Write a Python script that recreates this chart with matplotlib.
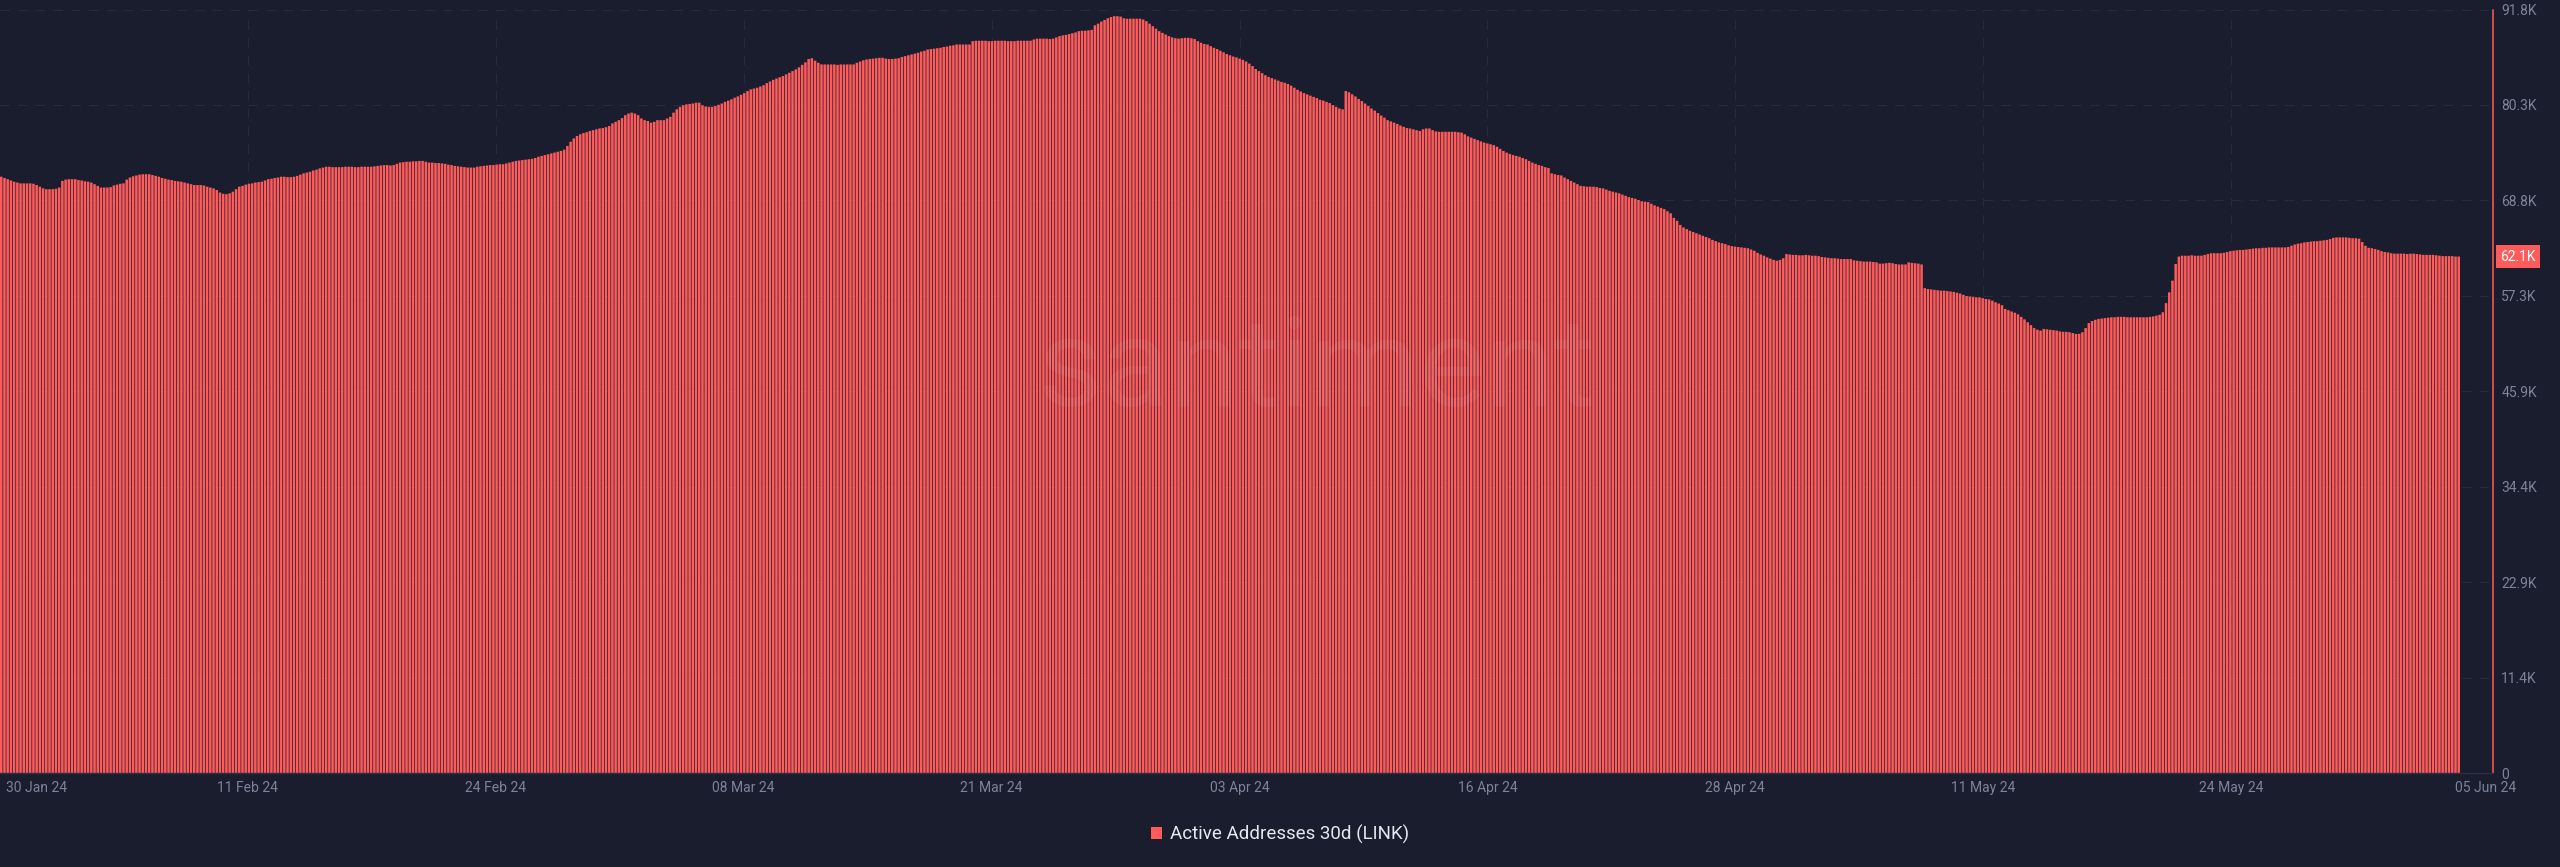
import numpy as np
import pandas as pd
import matplotlib
matplotlib.use('Agg')
import matplotlib.pyplot as plt
import matplotlib.dates as mdates
import matplotlib.transforms as mtransforms
from matplotlib.patches import Patch

plt.rcParams['font.family'] = ['Roboto', 'DejaVu Sans']

# Active Addresses 30d (LINK), one bar per 4h, in thousands
values = [
    71.7, 71.55, 71.4, 71.25, 71.1, 71.0,
    70.9, 70.9, 70.9, 70.9, 70.85, 70.7,
    70.5, 70.3, 70.2, 70.2, 70.2, 70.25,
    70.4, 71.2, 71.35, 71.4, 71.4, 71.4,
    71.3, 71.25, 71.15, 71.1, 71.0, 70.8,
    70.6, 70.4, 70.4, 70.4, 70.45, 70.65,
    70.75, 70.85, 70.9, 71.35, 71.6, 71.75,
    71.85, 71.95, 72.0, 72.0, 72.0, 71.9,
    71.8, 71.7, 71.55, 71.45, 71.35, 71.3,
    71.2, 71.15, 71.1, 71.0, 70.9, 70.8,
    70.7, 70.7, 70.7, 70.65, 70.5, 70.4,
    70.3, 70.1, 69.8, 69.65, 69.6, 69.7,
    69.9, 70.2, 70.5, 70.6, 70.75, 70.85,
    70.9, 71.0, 71.05, 71.1, 71.25, 71.4,
    71.45, 71.55, 71.6, 71.7, 71.7, 71.65,
    71.65, 71.7, 71.8, 71.95, 72.1, 72.2,
    72.3, 72.45, 72.55, 72.7, 72.8, 72.9,
    72.9, 72.85, 72.85, 72.85, 72.85, 72.9,
    72.9, 72.9, 72.85, 72.85, 72.9, 72.9,
    72.9, 72.9, 72.95, 73.0, 73.05, 73.1,
    73.1, 73.05, 73.1, 73.25, 73.4, 73.45,
    73.5, 73.5, 73.55, 73.55, 73.6, 73.6,
    73.5, 73.4, 73.4, 73.35, 73.35, 73.3,
    73.25, 73.15, 73.1, 73.0, 72.95, 72.9,
    72.85, 72.8, 72.8, 72.8, 72.9, 72.95,
    73.0, 73.05, 73.1, 73.1, 73.15, 73.2,
    73.2, 73.3, 73.4, 73.5, 73.6, 73.65,
    73.7, 73.75, 73.8, 73.85, 73.95, 74.1,
    74.2, 74.3, 74.4, 74.5, 74.6, 74.7,
    74.8, 74.95, 75.4, 75.9, 76.3, 76.6,
    76.8, 76.95, 77.05, 77.2, 77.3, 77.4,
    77.5, 77.55, 77.65, 77.8, 78.1, 78.3,
    78.5, 78.75, 79.1, 79.3, 79.4, 79.3,
    79.1, 78.7, 78.5, 78.4, 78.2, 78.3,
    78.5, 78.5, 78.5, 78.7, 78.9, 79.4,
    79.8, 80.1, 80.3, 80.4, 80.45, 80.5,
    80.6, 80.6, 80.3, 80.15, 80.1, 80.1,
    80.2, 80.35, 80.5, 80.7, 80.85, 81.0,
    81.2, 81.35, 81.55, 81.75, 82.0, 82.2,
    82.3, 82.4, 82.55, 82.7, 82.95, 83.15,
    83.35, 83.5, 83.65, 83.8, 84.0, 84.2,
    84.4, 84.6, 84.85, 85.15, 85.45, 85.85,
    85.95, 85.65, 85.4, 85.2, 85.2, 85.2,
    85.2, 85.2, 85.15, 85.2, 85.2, 85.2,
    85.2, 85.2, 85.4, 85.55, 85.7, 85.8,
    85.85, 85.9, 85.95, 86.0, 86.0, 85.9,
    85.85, 85.85, 85.9, 85.95, 86.1, 86.2,
    86.3, 86.4, 86.5, 86.6, 86.75, 86.85,
    87.0, 87.05, 87.1, 87.15, 87.2, 87.3,
    87.35, 87.45, 87.5, 87.6, 87.6, 87.6,
    87.6, 87.6, 88.0, 88.05, 88.05, 88.05,
    88.05, 88.0, 88.0, 88.05, 88.05, 88.05,
    88.05, 88.0, 88.0, 88.0, 88.05, 88.05,
    88.05, 88.05, 88.05, 88.2, 88.3, 88.3,
    88.3, 88.3, 88.25, 88.3, 88.45, 88.6,
    88.7, 88.75, 88.85, 88.95, 89.05, 89.2,
    89.25, 89.25, 89.3, 89.35, 89.9, 90.1,
    90.35, 90.55, 90.75, 90.9, 91.0, 91.0,
    90.95, 90.75, 90.7, 90.7, 90.7, 90.7,
    90.7, 90.6, 90.4, 90.1, 89.8, 89.5,
    89.2, 89.0, 88.8, 88.6, 88.45, 88.35,
    88.3, 88.35, 88.4, 88.4, 88.35, 88.25,
    88.0, 87.8, 87.65, 87.6, 87.4, 87.2,
    87.05, 86.85, 86.65, 86.45, 86.3, 86.15,
    86.05, 85.9, 85.75, 85.55, 85.3, 85.0,
    84.65, 84.4, 84.15, 83.9, 83.7, 83.55,
    83.4, 83.25, 83.1, 83.0, 82.85, 82.65,
    82.4, 82.15, 81.95, 81.75, 81.6, 81.45,
    81.3, 81.15, 80.95, 80.85, 80.7, 80.55,
    80.3, 80.1, 79.9, 79.8, 82.0, 81.85,
    81.6, 81.35, 81.05, 80.8, 80.5, 80.2,
    79.9, 79.65, 79.35, 79.05, 78.8, 78.5,
    78.35, 78.2, 78.05, 77.85, 77.7, 77.55,
    77.5, 77.4, 77.3, 77.2, 77.4, 77.5,
    77.5, 77.3, 77.15, 77.1, 77.1, 77.1,
    77.1, 77.1, 77.1, 77.05, 77.0, 76.8,
    76.55, 76.4, 76.25, 76.1, 75.95, 75.8,
    75.7, 75.6, 75.5, 75.3, 75.05, 74.8,
    74.6, 74.45, 74.3, 74.2, 74.1, 73.95,
    73.8, 73.6, 73.4, 73.25, 73.1, 73.0,
    72.85, 72.75, 72.1, 72.0, 71.9, 71.85,
    71.6, 71.4, 71.2, 71.0, 70.8, 70.6,
    70.55, 70.5, 70.5, 70.5, 70.45, 70.35,
    70.3, 70.15, 70.0, 69.9, 69.8, 69.7,
    69.55, 69.4, 69.25, 69.15, 69.05, 68.9,
    68.75, 68.7, 68.65, 68.45, 68.25, 68.1,
    67.95, 67.8, 67.55, 67.3, 66.75, 66.4,
    65.9, 65.6, 65.4, 65.2, 65.05, 64.9,
    64.75, 64.6, 64.45, 64.3, 64.1, 63.95,
    63.8, 63.7, 63.6, 63.45, 63.35, 63.3,
    63.25, 63.2, 63.15, 63.1, 62.95, 62.8,
    62.55, 62.35, 62.2, 62.0, 61.85, 61.7,
    61.6, 61.7, 61.9, 62.4, 62.35, 62.3,
    62.3, 62.25, 62.25, 62.3, 62.25, 62.2,
    62.2, 62.15, 62.05, 62.0, 61.95, 61.9,
    61.9, 61.85, 61.8, 61.8, 61.8, 61.8,
    61.65, 61.6, 61.55, 61.5, 61.5, 61.5,
    61.45, 61.4, 61.25, 61.25, 61.3, 61.35,
    61.3, 61.2, 61.15, 61.15, 61.15, 61.4,
    61.35, 61.3, 61.25, 61.15, 58.3, 58.2,
    58.15, 58.1, 58.05, 58.0, 58.0, 57.95,
    57.9, 57.85, 57.75, 57.65, 57.5, 57.35,
    57.3, 57.25, 57.2, 57.2, 57.1, 57.0,
    56.95, 56.8, 56.6, 56.45, 56.25, 55.8,
    55.65, 55.5, 55.35, 55.15, 54.85, 54.55,
    54.2, 53.85, 53.5, 53.3, 53.2, 53.4,
    53.35, 53.3, 53.25, 53.2, 53.1, 53.05,
    53.05, 53.0, 52.9, 52.8, 52.8, 53.0,
    53.5, 54.1, 54.35, 54.5, 54.6, 54.65,
    54.7, 54.75, 54.8, 54.8, 54.85, 54.85,
    54.85, 54.8, 54.8, 54.8, 54.8, 54.8,
    54.8, 54.8, 54.85, 54.9, 55.0, 55.1,
    55.4, 56.5, 57.8, 59.2, 61.2, 62.1,
    62.2, 62.2, 62.2, 62.25, 62.2, 62.2,
    62.2, 62.3, 62.4, 62.5, 62.5, 62.5,
    62.5, 62.55, 62.65, 62.75, 62.8, 62.85,
    62.9, 62.9, 62.95, 63.0, 63.05, 63.1,
    63.1, 63.15, 63.15, 63.2, 63.2, 63.2,
    63.2, 63.2, 63.2, 63.25, 63.4, 63.55,
    63.65, 63.7, 63.8, 63.85, 63.9, 63.95,
    63.95, 64.0, 64.05, 64.1, 64.2, 64.35,
    64.4, 64.4, 64.4, 64.4, 64.35, 64.3,
    64.3, 64.25, 63.85, 63.4, 63.15, 63.1,
    63.0, 62.9, 62.75, 62.65, 62.6, 62.5,
    62.45, 62.45, 62.45, 62.45, 62.4, 62.45,
    62.45, 62.4, 62.35, 62.3, 62.3, 62.3,
    62.3, 62.25, 62.2, 62.15, 62.15, 62.15,
    62.15, 62.1, 62.1,
]
start = '2024-01-30'
x_labels = ['30 Jan 24', '11 Feb 24', '24 Feb 24', '08 Mar 24', '21 Mar 24', '03 Apr 24',
            '16 Apr 24', '28 Apr 24', '11 May 24', '24 May 24', '05 Jun 24']
y_ticks = [0, 11.475, 22.95, 34.425, 45.9, 57.375, 68.85, 80.325, 91.8]
y_labels = ['0', '11.4K', '22.9K', '34.4K', '45.9K', '57.3K', '68.8K', '80.3K', '91.8K']
series_name = 'Active Addresses 30d (LINK)'

bg = '#191d2d'
red = '#ff5b5b'
grid_col = '#272c3d'
txt = '#7d8499'

times = mdates.date2num(pd.date_range(start, periods=len(values), freq='4h'))
step = 4 / 24

fig = plt.figure(figsize=(25.6, 8.67), dpi=100, facecolor=bg)
ax = fig.add_axes([0, 0.1084, 0.9738, 0.8806], facecolor=bg)
bars = ax.bar(times, values, width=step * 0.78, align='edge', color=red, linewidth=0, zorder=2)
for b in bars:
    b.set_snap(False)

x0 = times[0]
ax.set_xlim(x0, x0 + 129.17)
ax.set_ylim(0, 91.8)

# y axis on the right
ax.set_yticks(y_ticks)
ax.set_yticklabels(y_labels)
ax.yaxis.tick_right()
ax.tick_params(axis='y', length=0, pad=6, labelcolor=txt, labelsize=10)
ax.grid(axis='y', color=grid_col, lw=0.75, ls=(0, (9, 8)), zorder=1)

# x axis: labels evenly spaced
xt = x0 + np.arange(len(x_labels)) * 12.845
ax.set_xticks(xt)
ax.set_xticklabels(x_labels)
ax.tick_params(axis='x', length=0, pad=6, labelcolor=txt, labelsize=10)
labs = ax.get_xticklabels()
labs[0].set_ha('left')
labs[0].set_transform(labs[0].get_transform() + mtransforms.ScaledTranslation(0.06, 0, fig.dpi_scale_trans))
labs[-1].set_transform(labs[-1].get_transform() + mtransforms.ScaledTranslation(0.07, 0, fig.dpi_scale_trans))
for t in xt[1:-1]:
    ax.axvline(t, color=grid_col, lw=0.75, ls=(0, (9, 8)), zorder=1)

for s in ['top', 'left']:
    ax.spines[s].set_visible(False)
ax.spines['right'].set_color(red)
ax.spines['right'].set_linewidth(1.1)
ax.spines['bottom'].set_color('#2b3042')
ax.spines['bottom'].set_linewidth(1)

# last value tag
ax.annotate(f'{values[-1]:.1f}K', xy=(1, values[-1]), xycoords=('axes fraction', 'data'),
            xytext=(7, 0), textcoords='offset pixels', ha='left', va='center',
            color='white', fontsize=10,
            bbox=dict(boxstyle='square,pad=0.3', fc=red, ec='none'), annotation_clip=False)

# watermark
ax.text(0.528, 0.525, 'santiment', transform=ax.transAxes, fontsize=90, color='white',
        alpha=0.05, ha='center', va='center', zorder=3)

fig.legend(handles=[Patch(facecolor=red, label=series_name)], loc='center',
           bbox_to_anchor=(0.5, 0.038), frameon=False, fontsize=13.5, labelcolor='#e6e8ee',
           handlelength=0.6, handleheight=0.6, handletextpad=0.4)

plt.savefig('out.png', dpi=100, facecolor=bg)
